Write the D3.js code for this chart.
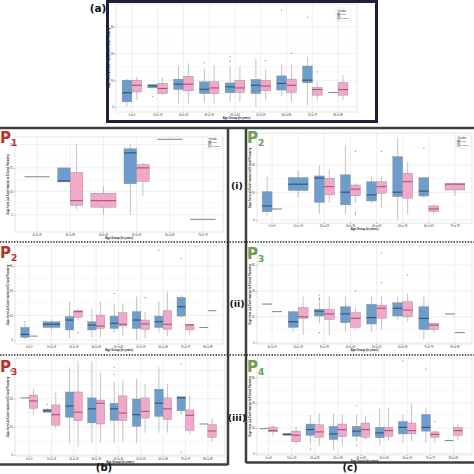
<!DOCTYPE html>
<html><head><meta charset="utf-8">
<script src="https://cdn.jsdelivr.net/npm/d3@7"></script>
<style>body{margin:0;background:#fff}svg{display:block}</style>
</head><body><svg id="c" width="474" height="474"></svg>
<script>
// ---------- DATA ([low whisker, q1, median, q3, high whisker]) ----------
const ages9 = ["0 to 9","10 to 19","20 to 29","30 to 39","40 to 49","50 to 59","60 to 69","70 to 79","80 to 89"];
const agesP1 = ["20 to 29","30 to 39","40 to 49","50 to 59","60 to 69","70 to 79"];
const agesP2i = ["0 to 9","10 to 19","20 to 29","30 to 39","40 to 49","50 to 59","60 to 69","70 to 79"];
const agesP3ii = ["10 to 19","20 to 29","30 to 39","40 to 49","50 to 59","60 to 69","70 to 79","80 to 89"];
const genders = ["Male","Female"];
const yTicks = [0,10,20,30];
const yTicksP1 = [5,10,15,20];

const a_male = [[0.3,1.9,5.3,10,10.5],[7.1,7.1,7.9,8.4,8.4],[1.3,6.5,8.5,10.4,15.4],[1.9,5,6.6,9.4,14.4],[1.9,5.3,7.5,9,15.3],[0,5,8.1,10.3,17.9],[4.1,6.3,8.8,11.6,15.9],[0.6,9,10,15.3,18.5],[5.4,5.4,5.4,5.4,5.4]];
const a_female = [[2.5,5.6,8.1,10,11.3],[4.4,5,6.9,8.8,11],[1.3,6,8.5,11.5,16.3],[1.3,5,7.1,9.4,15.6],[1.9,5.4,7.1,10,15],[2.5,6,7.8,10,14],[1.9,5.4,8.1,10.4,15.9],[2.5,4.4,6.5,7.3,9.4],[2.5,4.4,6.5,9.1,11.9]];
const a_maleOut = [[],[4],[],[16.5],[17.1,18.8],[],[36.3],[33.5],[]];
const a_femaleOut = [[],[],[],[],[],[17.3],[20],[13.1],[]];

const p1_male = [[13.1,13.1,13.1,13.1,13.1],[12,12,12.2,15,15],null,[5,11.6,18.2,19.1,20],[21.1,21.1,21.1,21.1,21.1],null];
const p1_female = [null,[6.1,7,8,14,20],[5,6.6,8,9.6,11.1],[9,12.1,15,15.7,16.1],null,[4,4,4,4,4]];
const p1_maleOut = [[],[],[],[],[],[]];
const p1_femaleOut = [[],[],[],[],[],[]];

const p2i_male = [[1.6,3,5.1,10.3,15.8],[8.1,10.7,13,15.4,17.8],[2.1,6.4,15.2,16,20],[2.1,5.5,10.1,16.4,27],[6.1,6.9,9.1,13.9,15.8],[0,8.5,10.1,23,30],[8.1,8.7,10.5,15.4,15.4],null];
const p2i_female = [[4,4,4,4,4],null,[6.1,9.1,12.1,15.2,18.2],[6.1,8.8,11.2,12.7,13.5],[4.2,9.7,12.1,13.9,15.8],[2.1,7.9,13.9,17,21.2],[2.1,3,4,5.1,5.7],[8.8,10.9,13,13.3,13.7]];
const p2i_maleOut = [[],[],[],[],[],[],[26],[]];
const p2i_femaleOut = [[],[],[],[2.8,2.1,25],[25],[],[],[]];

const p2ii_male = [[0.3,1.1,2.3,5.1,7.7],[4.1,5.1,6.4,7.4,8.4],[0.7,4.1,8.1,9.5,15.5],[1.1,4.1,6.1,7.4,12.8],[3,4.7,6.8,9.7,14.6],[0,4.7,8.1,11.5,17.6],[3,5.1,7.4,9.7,15.5],[9.2,9.7,13.5,17.3,18.2],[5.1,5.1,5.1,5.1,5.1]];
const p2ii_female = [[1.6,1.6,1.6,1.6,1.6],null,[8.1,9.2,11.5,11.9,12.8],[1.1,4.7,5.7,10.1,15.5],[2,5.7,6.4,11.1,14.6],[0.7,4.3,6.5,8.1,11.5],[1.6,4.3,6.4,11.9,19.6],[2,4.1,6.1,6.4,6.4],[11.9,11.9,11.9,11.9,11.9]];
const p2ii_maleOut = [[],[],[],[],[18.9],[],[36.5],[33],[]];
const p2ii_femaleOut = [[],[],[3],[],[],[17.2],[],[],[]];

const p3ii_male = [[14.9,14.9,14.9,14.9,14.9],[4.2,5.9,8.1,12,12.6],[7.5,10.3,12.2,12.9,15.8],[4.2,7.7,11.1,13.9,17.8],[4.2,7.2,9.7,14.8,17.8],[8.8,10.3,13.3,15.4,17.8],[1.3,5.1,9.4,13.9,17.8],[11.1,11.1,11.1,11.1,11.1]];
const p3ii_female = [[12,12,12,12,12],[3,9.4,10,13.6,17.8],[3,9,11.1,12.9,17.8],[5.1,5.9,9.4,11.6,13.6],[5.1,9.4,13.3,14.5,17.8],[8.1,10,12.6,15.8,19],[3.9,5.1,6.8,7.5,7.5],[3.9,3.9,3.9,3.9,3.9]];
const p3ii_maleOut = [[],[],[18.4,17.1,16.5,3.9],[],[],[],[],[]];
const p3ii_femaleOut = [[],[],[],[19.9],[23.2,34.7],[26.1],[],[]];

const p3iii_male = [[20.3,20.3,20.3,20.3,20.3],[15.2,15.2,15.7,16.3,16.6],[4.1,13.4,17.4,22.4,31.2],[4.1,11.4,16.4,20.3,33.5],[4.1,12.3,16.4,18.4,25.9],[4.1,10.2,14.3,19.9,27.1],[7.9,13.7,18.4,23.4,31.2],[14.5,15.7,20.3,20.7,21],[11,11,11,11,11]];
const p3iii_female = [[14.3,16.6,19.2,21.3,23.6],[9.4,10.6,14.3,17.8,22.2],[2.9,12.2,15.2,22.4,33.5],[4.4,11,18.4,19.5,29.4],[4.8,12.2,14.9,21,26.5],[7.9,13.1,15.5,20.3,25.3],[7.9,12.6,16.4,20.3,25.3],[7.3,8.7,14.1,16,21],[4.8,6.2,8.5,10.8,13.1]];
const p3iii_maleOut = [[],[18],[],[],[31.2,28.8],[],[],[32.3,0.9],[]];
const p3iii_femaleOut = [[],[],[],[],[],[],[],[],[]];

const p4_male = [[9.8,9.8,9.8,9.8,9.8],[7.2,7.2,7.5,7.9,7.9],[3.6,7.1,9.4,11.6,15.2],[1.3,5.5,7.7,10.7,15.8],[4.6,6.8,8.8,10.7,15.4],[3,6.2,8.1,10.3,17.8],[3.9,7.7,10.3,12.6,15.4],[4.2,8.8,10.3,15.4,18],[5.1,5.1,5.1,5.1,5.1]];
const p4_female = [[6.8,8.5,9,10.4,11.3],[3.6,4.6,7.2,8.8,10.7],[3,6.4,8.5,11.3,15.8],[3,6.6,9.4,11.6,15.4],[5.5,6.4,9.4,12,14.5],[5.1,6.8,9,10.3,17.1],[4.9,7.7,9,12,19.7],[4.2,6.4,7.5,8.5,9],[5.5,7.2,9,10.3,11.6]];
const p4_maleOut = [[],[],[1.7],[],[18.8,3.3],[],[36.4],[33.2],[]];
const p4_femaleOut = [[],[],[],[],[],[17.6],[],[12.6],[]];

// ---------- DRAWING ----------
const svg = d3.select("#c");
const FONT = "Liberation Sans, Arial, sans-serif";
const fill = {Male:"#6d9dcd", Female:"#f2a8c9"};
const medCol = {Male:"#34506e", Female:"#a9517a"};

function panel(o){
  const g = svg.append("g");
  const x = d3.scaleBand().domain(o.groups).range(o.band);
  const y = d3.scaleLinear().domain(o.ydom).range([o.y1, o.y0]);
  g.append("rect").attr("x",o.x0).attr("y",o.y0).attr("width",o.x1-o.x0).attr("height",o.y1-o.y0)
    .attr("fill","#fff").attr("stroke","#d4d4d4").attr("stroke-width",0.6);
  const minor = d3.range(o.ticks.length-1).map(i=>(o.ticks[i]+o.ticks[i+1])/2);
  g.selectAll(".mn").data(minor).join("line").attr("x1",o.x0).attr("x2",o.x1)
    .attr("y1",d=>y(d)).attr("y2",d=>y(d)).attr("stroke","#f0f0f0").attr("stroke-width",0.5);
  g.selectAll(".mj").data(o.ticks).join("line").attr("x1",o.x0).attr("x2",o.x1)
    .attr("y1",d=>y(d)).attr("y2",d=>y(d)).attr("stroke","#e4e4e4").attr("stroke-width",0.6);
  g.selectAll(".vg").data(o.groups).join("line").attr("y1",o.y0).attr("y2",o.y1)
    .attr("x1",d=>x(d)+x.bandwidth()/2).attr("x2",d=>x(d)+x.bandwidth()/2).attr("stroke","#e4e4e4").attr("stroke-width",0.6);
  const ya = d3.axisLeft(y).tickValues(o.ticks).tickSize(1.2).tickPadding(1);
  const yg = g.append("g").attr("transform",`translate(${o.x0},0)`).call(ya);
  yg.select(".domain").remove();
  yg.selectAll("line").attr("stroke","#555").attr("stroke-width",0.4);
  yg.selectAll("text").attr("font-size",2.8).attr("font-family",FONT).attr("fill","#333");
  const xa = d3.axisBottom(x).tickSize(1).tickPadding(0.8);
  const xg = g.append("g").attr("transform",`translate(0,${o.y1})`).call(xa);
  xg.select(".domain").remove();
  xg.selectAll("line").attr("stroke","#555").attr("stroke-width",0.4);
  xg.selectAll("text").attr("font-size",2.6).attr("font-family",FONT).attr("fill","#333");
  g.append("text").attr("x",(o.x0+o.x1)/2).attr("y",o.y1+6.5).attr("text-anchor","middle")
    .attr("font-size",2.8).attr("font-weight","bold").attr("font-family",FONT).attr("fill","#222").text("Age Group (in years)");
  g.append("text").attr("transform",`translate(${o.x0-6},${(o.y0+o.y1)/2}) rotate(-90)`).attr("text-anchor","middle")
    .attr("font-size",2.6).attr("font-weight","bold").attr("font-family",FONT).attr("fill","#222")
    .text("Days from Lab Confirmation to Clinical Recovery");
  const step = x.bandwidth(), dw = step*0.76;
  const items = [];
  o.groups.forEach((grp,i)=>{
    const m = o.male[i], f = o.female[i];
    const both = m && f;
    const cx = x(grp)+step/2;
    if(m) items.push({s:m, out:o.mOut[i], g:"Male", c: both? cx-dw/4: cx, w: both? dw/2: dw});
    if(f) items.push({s:f, out:o.fOut[i], g:"Female", c: both? cx+dw/4: cx, w: both? dw/2: dw});
  });
  const bx = g.selectAll(".bx").data(items).join("g");
  bx.append("line").attr("x1",d=>d.c).attr("x2",d=>d.c).attr("y1",d=>y(d.s[0])).attr("y2",d=>y(d.s[4]))
    .attr("stroke","#9a9a9a").attr("stroke-width",0.6);
  bx.append("rect").attr("x",d=>d.c-d.w/2).attr("width",d=>d.w)
    .attr("y",d=>y(d.s[3])).attr("height",d=>Math.max(0,y(d.s[1])-y(d.s[3])))
    .attr("fill",d=>fill[d.g]).attr("stroke",d=>d.s[1]===d.s[3]?"none":"#8a8a8a").attr("stroke-width",0.4);
  bx.append("line").attr("x1",d=>d.c-d.w/2).attr("x2",d=>d.c+d.w/2).attr("y1",d=>y(d.s[2])).attr("y2",d=>y(d.s[2]))
    .attr("stroke",d=>d.s[1]===d.s[3]?"#8c8c8c":medCol[d.g]).attr("stroke-width",1.1);
  bx.each(function(d){
    d3.select(this).selectAll("circle").data(d.out).join("circle").attr("cx",d.c).attr("cy",v=>y(v)).attr("r",0.6).attr("fill","#7a7a7a");
  });
  if(o.legend){
    const [lx,ly] = o.legend;
    const lg = g.append("g").attr("transform",`translate(${lx},${ly})`);
    lg.append("rect").attr("width",15).attr("height",13).attr("fill","#fff").attr("stroke","#ddd").attr("stroke-width",0.4);
    lg.append("text").attr("x",1.5).attr("y",3.5).attr("font-size",2.6).attr("font-family",FONT).attr("fill","#333").text("Gender");
    genders.forEach((gg,k)=>{
      lg.append("rect").attr("x",1.5).attr("y",5+k*3.6).attr("width",2.6).attr("height",2.6).attr("fill",fill[gg]).attr("stroke","#777").attr("stroke-width",0.3);
      lg.append("text").attr("x",5).attr("y",7.2+k*3.6).attr("font-size",2.4).attr("font-family",FONT).attr("fill","#333").text(gg);
    });
  }
}

panel({groups:ages9, band:[119,351], x0:116,x1:357,y0:4,y1:112, ydom:[-1.9,38.5], ticks:yTicks,
  male:a_male,female:a_female,mOut:a_maleOut,fOut:a_femaleOut, legend:[336,8]});
panel({groups:agesP1, band:[20.5,219.5], x0:15,x1:223,y0:137,y1:232, ydom:[1.3,21.6], ticks:yTicksP1,
  male:p1_male,female:p1_female,mOut:p1_maleOut,fOut:p1_femaleOut, legend:[207,136]});
panel({groups:agesP2i, band:[259,468], x0:257,x1:472,y0:133,y1:223, ydom:[-1.1,31.6], ticks:[0,10,20],
  male:p2i_male,female:p2i_female,mOut:p2i_maleOut,fOut:p2i_femaleOut, legend:[456,135]});
panel({groups:ages9, band:[18,219], x0:15,x1:223,y0:246,y1:344, ydom:[-1.6,38.1], ticks:yTicks,
  male:p2ii_male,female:p2ii_female,mOut:p2ii_maleOut,fOut:p2ii_femaleOut});
panel({groups:agesP3ii, band:[259,468], x0:257,x1:472,y0:245,y1:344, ydom:[-0.5,37.7], ticks:yTicks,
  male:p3ii_male,female:p3ii_female,mOut:p3ii_maleOut,fOut:p3ii_femaleOut});
panel({groups:ages9, band:[18,219], x0:15,x1:225,y0:358,y1:456, ydom:[-0.4,34.5], ticks:yTicks,
  male:p3iii_male,female:p3iii_female,mOut:p3iii_maleOut,fOut:p3iii_femaleOut});
panel({groups:ages9, band:[257,465], x0:257,x1:472,y0:358,y1:455, ydom:[-0.6,37.6], ticks:yTicks,
  male:p4_male,female:p4_female,mOut:p4_maleOut,fOut:p4_femaleOut});

// ---------- FRAMES & LABELS ----------
const frame = "#3e3e3e";
svg.append("rect").attr("x",107.5).attr("y",1.5).attr("width",269).attr("height",120)
  .attr("fill","none").attr("stroke","#1e1e3e").attr("stroke-width",3);
const lines = [[0,128,474,128],[228,128,228,465],[246,128,246,463],[0,464.5,228,464.5],[246,462.5,474,462.5]];
lines.forEach(l=>svg.append("line").attr("x1",l[0]).attr("y1",l[1]).attr("x2",l[2]).attr("y2",l[3]).attr("stroke",frame).attr("stroke-width",2.5));
[242,355].forEach(yy=>svg.append("line").attr("x1",0).attr("x2",474).attr("y1",yy).attr("y2",yy)
  .attr("stroke","#222").attr("stroke-width",1.4).attr("stroke-dasharray","1.4,1.4"));

function lab(t,x,y,s){svg.append("text").attr("x",x).attr("y",y).attr("text-anchor","middle").attr("font-size",s)
  .attr("font-weight","bold").attr("font-family","DejaVu Sans, sans-serif").attr("fill","#111").text(t);}
lab("(a)",98,12,10.5); lab("(i)",237,189,9.5); lab("(ii)",237,307,9.5); lab("(iii)",237,421,9.5);
lab("(b)",104,471,10); lab("(c)",350,471,10);

function plab(n,x,y,col){
  const t = svg.append("text").attr("x",x).attr("y",y).attr("font-family","DejaVu Sans, sans-serif").attr("font-weight","bold").attr("fill",col);
  t.append("tspan").attr("font-size",15).text("P");
  t.append("tspan").attr("font-size",9).attr("dy",3).text(n);
}
const red = "#b8302e", green = "#6a9e50";
plab("1",0,143,red); plab("2",247,143,green);
plab("2",0,258,red); plab("3",247,259,green);
plab("3",0,372,red); plab("4",247,372,green);
</script></body></html>
